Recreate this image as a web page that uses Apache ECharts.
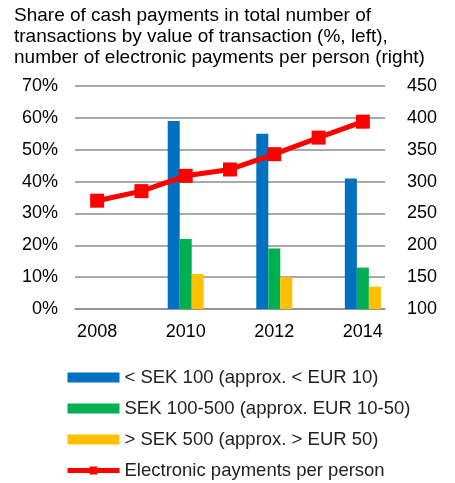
<!DOCTYPE html>
<html>
<head>
<meta charset="utf-8">
<script src="https://cdn.jsdelivr.net/npm/echarts@6/dist/echarts.min.js"></script>
<style>
  html, body { margin: 0; padding: 0; background: #fff; }
  #main { width: 455px; height: 483px; }
</style>
</head>
<body>
<div id="main"></div>
<script>
var years = ['2008', '2009', '2010', '2011', '2012', '2013', '2014'];
// cash share by transaction value (%), only surveyed years
var under100 = [null, null, 59, null, 55, null, 41];
var from100to500 = [null, null, 22, null, 19, null, 13];
var over500 = [null, null, 11, null, 10, null, 7];
// electronic payments per person (right axis)
var electronic = [270, 285, 309, 319, 343, 369, 394];

var font = 'Liberation Sans, Arial, sans-serif';
var myChart = echarts.init(document.getElementById('main'));

var option = {
    animation: false,
    title: {
        text: 'Share of cash payments in total number of\ntransactions by value of transaction (%, left),\nnumber of electronic payments per person (right)',
        left: 14,
        top: 5,
        padding: 0,
        textStyle: {
            fontFamily: font,
            fontSize: 19,
            fontWeight: 'normal',
            lineHeight: 21,
            color: '#000'
        }
    },
    grid: {
        left: 75,
        right: 70,
        top: 86,
        bottom: 174
    },
    legend: {
        orient: 'vertical',
        left: 65,
        top: 368,
        height: 130,
        padding: 0,
        itemWidth: 52,
        itemHeight: 10,
        itemGap: 12,
        textStyle: { fontFamily: font, fontSize: 18.5, color: '#222' },
        data: [
            { name: '< SEK 100 (approx. < EUR 10)', icon: 'rect' },
            { name: 'SEK 100-500 (approx. EUR 10-50)', icon: 'rect' },
            { name: '> SEK 500 (approx. > EUR 50)', icon: 'rect' },
            { name: 'Electronic payments per person', lineStyle: { width: 5 } }
        ]
    },
    xAxis: {
        type: 'category',
        data: years,
        axisLine: { lineStyle: { color: '#8c8c8c', width: 1.5 } },
        axisTick: { show: false },
        axisLabel: {
            interval: 1,
            margin: 14,
            fontFamily: font,
            fontSize: 18,
            color: '#000'
        }
    },
    yAxis: [
        {
            type: 'value',
            min: 0,
            max: 70,
            interval: 10,
            axisLine: { show: false },
            axisTick: { show: false },
            splitLine: { lineStyle: { color: '#8c8c8c', width: 1.5 } },
            axisLabel: {
                formatter: '{value}%',
                margin: 17,
                fontFamily: font,
                fontSize: 18,
                color: '#000'
            }
        },
        {
            type: 'value',
            min: 100,
            max: 450,
            interval: 50,
            axisLine: { show: false },
            axisTick: { show: false },
            splitLine: { show: false },
            axisLabel: {
                margin: 22,
                fontFamily: font,
                fontSize: 18,
                color: '#000'
            }
        }
    ],
    series: [
        {
            name: '< SEK 100 (approx. < EUR 10)',
            type: 'bar',
            barWidth: 12,
            barGap: '0%',
            itemStyle: { color: '#0070C0' },
            data: under100
        },
        {
            name: 'SEK 100-500 (approx. EUR 10-50)',
            type: 'bar',
            barWidth: 12,
            barGap: '0%',
            itemStyle: { color: '#00B050' },
            data: from100to500
        },
        {
            name: '> SEK 500 (approx. > EUR 50)',
            type: 'bar',
            barWidth: 12,
            barGap: '0%',
            itemStyle: { color: '#FFC000' },
            data: over500
        },
        {
            name: 'Electronic payments per person',
            type: 'line',
            yAxisIndex: 1,
            symbol: 'rect',
            symbolSize: 14,
            z: 5,
            lineStyle: { color: '#FF0000', width: 5 },
            itemStyle: { color: '#FF0000' },
            data: electronic
        }
    ]
};
myChart.setOption(option);
</script>
</body>
</html>
